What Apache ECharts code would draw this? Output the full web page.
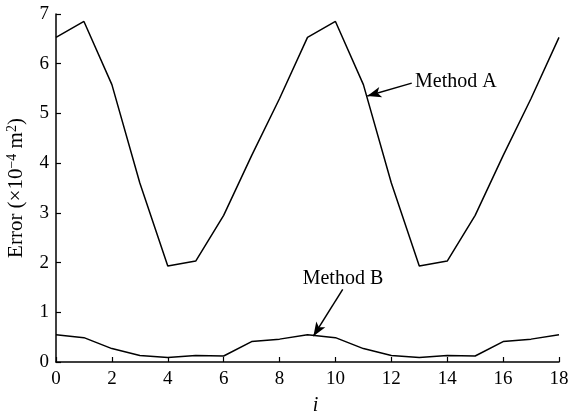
<!DOCTYPE html>
<html>
<head>
<meta charset="utf-8">
<script src="https://cdn.jsdelivr.net/npm/echarts@6/dist/echarts.min.js"></script>
<style>html,body{margin:0;padding:0;background:#fff}#c{width:569px;height:414px}</style>
</head>
<body>
<div id="c"></div>
<script>
const xValues = [0,1,2,3,4,5,6,7,8,9,10,11,12,13,14,15,16,17,18];
const methodA = [6.53,6.85,5.58,3.6,1.93,2.03,2.95,4.15,5.3,6.53,6.85,5.58,3.6,1.93,2.03,2.95,4.15,5.3,6.53];
const methodB = [0.55,0.49,0.27,0.13,0.09,0.13,0.12,0.41,0.46,0.55,0.49,0.27,0.13,0.09,0.13,0.12,0.41,0.46,0.55];
const arrowA = [[12.73,5.61],[11.14,5.35]];
const arrowB = [[10.26,1.46],[9.21,0.52]];
const labelA = {text:'Method A', at:[12.85,5.63]};
const labelB = {text:'Method B', at:[10.27,1.67]};

const font = 'Liberation Serif, Times New Roman, serif';
const chart = echarts.init(document.getElementById('c'));
function pairs(ys){ return xValues.map((x,i)=>[x,ys[i]]); }
function arrowLine(a){
  return {
    silent:true, symbol:['none','arrow'], symbolSize:[8,14],
    lineStyle:{color:'#000',width:1.5,type:'solid'}, label:{show:false},
    data:[[{coord:a[0]},{coord:a[1]}]]
  };
}
chart.setOption({
  animation:false,
  backgroundColor:'#fff',
  grid:{left:56,right:10,top:14,bottom:52,containLabel:false,outerBoundsMode:'none'},
  xAxis:{
    type:'value', min:0, max:18, interval:2,
    name:'i', nameLocation:'middle', nameGap:34,
    nameTextStyle:{fontFamily:font,fontSize:20,fontStyle:'italic',color:'#000',padding:[0,0,0,16]},
    axisLine:{lineStyle:{color:'#000',width:1.5}},
    axisTick:{inside:true,length:5,lineStyle:{color:'#000',width:1.2}},
    axisLabel:{fontFamily:font,fontSize:19,color:'#000',margin:8},
    splitLine:{show:false}
  },
  yAxis:{
    type:'value', min:0, max:7, interval:1,
    name:'Error (×10{sup|−4} m{sup|2})', nameLocation:'middle', nameGap:28,
    nameTextStyle:{fontFamily:font,fontSize:21,color:'#000',
      rich:{sup:{fontFamily:font,fontSize:14,color:'#000',padding:[0,0,9,0]}}},
    axisLine:{lineStyle:{color:'#000',width:1.5}},
    axisTick:{inside:true,length:5,lineStyle:{color:'#000',width:1.2}},
    axisLabel:{fontFamily:font,fontSize:19,color:'#000',margin:7},
    splitLine:{show:false}
  },
  series:[
    {type:'line',name:'Method A',data:pairs(methodA),symbol:'none',
     lineStyle:{color:'#000',width:1.5},
     markLine:arrowLine(arrowA),
     markPoint:{silent:true,symbol:'circle',symbolSize:0,
       label:{show:true,position:'right',distance:0,formatter:labelA.text,fontFamily:font,fontSize:20,color:'#000'},
       data:[{coord:labelA.at}]}},
    {type:'line',name:'Method B',data:pairs(methodB),symbol:'none',
     lineStyle:{color:'#000',width:1.5},
     markLine:arrowLine(arrowB),
     markPoint:{silent:true,symbol:'circle',symbolSize:0,
       label:{show:true,position:'inside',formatter:labelB.text,fontFamily:font,fontSize:20,color:'#000'},
       data:[{coord:labelB.at}]}}
  ]
});
</script>
</body>
</html>
